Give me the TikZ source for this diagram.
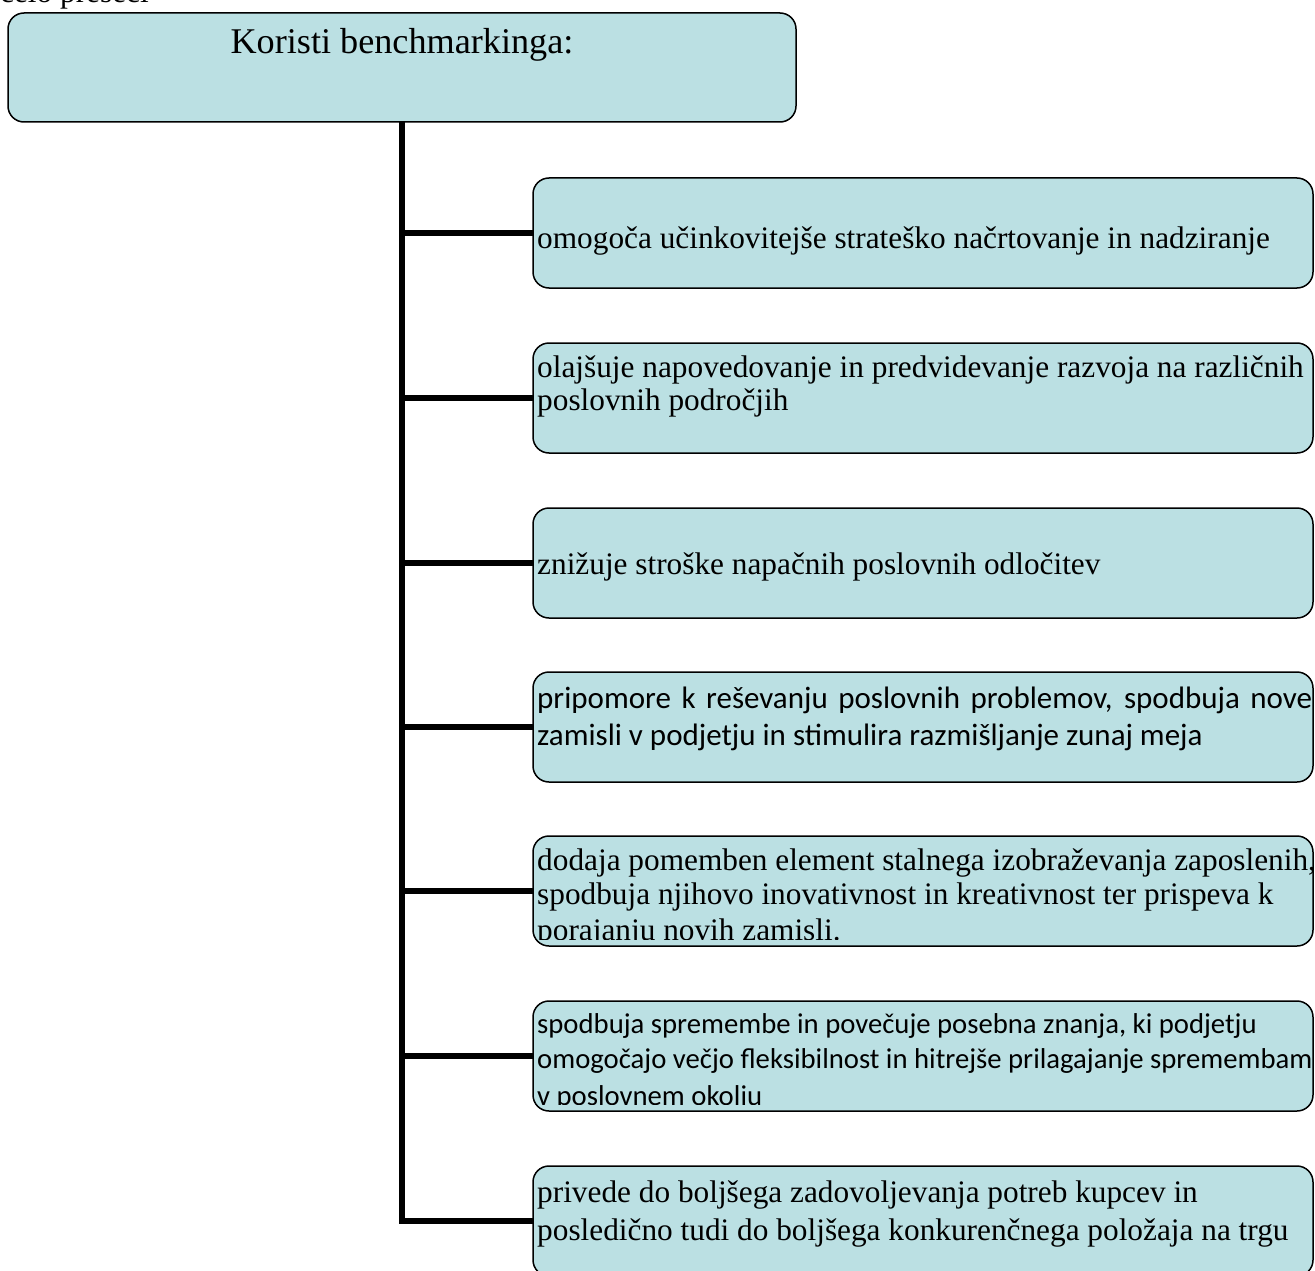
\documentclass[tikz,border=0pt]{standalone}
\usepackage{fontspec}
\setmainfont{Liberation Serif}
\newfontfamily\calfont{Carlito}
\definecolor{boxfill}{RGB}{187,224,227}

\tikzset{
  panel/.style={fill=boxfill, rounded corners=16pt, minimum width=780pt,
    minimum height=110pt, anchor=north west, inner sep=0pt, outer sep=0pt},
  rim/.style={draw=black, line width=1.5pt, rounded corners=16pt},
  stem/.style={line width=5.5pt, line join=miter},
  ser/.style={anchor=base west, inner sep=0pt, font=\fontsize{31.3}{36}\selectfont},
  serbig/.style={anchor=base, inner sep=0pt, font=\fontsize{36.2}{42}\selectfont},
  cal/.style={anchor=base west, inner sep=0pt, font=\calfont\fontsize{31}{37}\selectfont},
  calsm/.style={anchor=base west, inner sep=0pt, font=\calfont\fontsize{28.7}{35}\selectfont},
}

\begin{document}
\begin{tikzpicture}[x=1pt, y=-1pt]
\useasboundingbox (0,0) rectangle (1315,1271);
\clip (0,0) rectangle (1315,1271);

% running text above the chart
\node[ser] (prev) at (0,3) {celo preseči};

% panels (fill only; outlines are drawn last)
\node[panel, minimum width=788pt, minimum height=109pt] (head) at (8,13) {};
\node[panel] (b1) at (533,178) {};
\node[panel] (b2) at (533,343) {};
\node[panel] (b3) at (533,508) {};
\node[panel] (b4) at (533,672) {};
\node[panel] (b5) at (533,836) {};
\node[panel] (b6) at (533,1001) {};
\node[panel] (b7) at (533,1166) {};

% trunk and branches
\draw[stem] (head.south) |- (b7.west);
\foreach \b in {b1,b2,b3,b4,b5,b6}
  \draw[stem] (\b.west -| head.south) -- (\b.west);

% texts
\node[serbig] (title) at (402,54) {Koristi benchmarkinga:};

\node[ser] (t1) at (537,248) {omogoča učinkovitejše strateško načrtovanje in nadziranje};

\node[ser] (t2a) at (537,377) {olajšuje napovedovanje in predvidevanje razvoja na različnih};
\node[ser] (t2b) at (537,410) {poslovnih področjih};

\node[ser] (t3) at (537,574) {znižuje stroške napačnih poslovnih odločitev};

\begin{scope}
  \clip (b4.north west) rectangle ([yshift=6pt]b4.south east);
  \node[cal] (t4a) at (537,708) {\makebox[775pt][s]{pripomore k reševanju poslovnih problemov, spodbuja nove}};
  \node[cal] (t4b) at (537,745) {zamisli v podjetju in stimulira razmišljanje zunaj meja};
\end{scope}

\begin{scope}
  \clip (b5.north west) rectangle ([yshift=7pt]b5.south east);
  \node[ser] (t5a) at (537,870) {dodaja pomemben element stalnega izobraževanja zaposlenih,};
  \node[ser] (t5b) at (537,904) {spodbuja njihovo inovativnost in kreativnost ter prispeva k};
  \node[ser] (t5c) at (537,940) {porajanju novih zamisli.};
\end{scope}

\begin{scope}
  \clip (b6.north west) rectangle ([yshift=7pt]b6.south east);
  \node[calsm] (t6a) at (537,1033) {spodbuja spremembe in povečuje posebna znanja, ki podjetju};
  \node[calsm] (t6b) at (537,1068) {omogočajo večjo fleksibilnost in hitrejše prilagajanje spremembam};
  \node[calsm] (t6c) at (537,1105) {v poslovnem okolju};
\end{scope}

\node[ser] (t7a) at (537,1202) {privede do boljšega zadovoljevanja potreb kupcev in};
\node[ser] (t7b) at (537,1240) {posledično tudi do boljšega konkurenčnega položaja na trgu};

% outlines
\foreach \b in {head,b1,b2,b3,b4,b5,b6,b7}
  \draw[rim] (\b.south west) rectangle (\b.north east);
\end{tikzpicture}
\end{document}
